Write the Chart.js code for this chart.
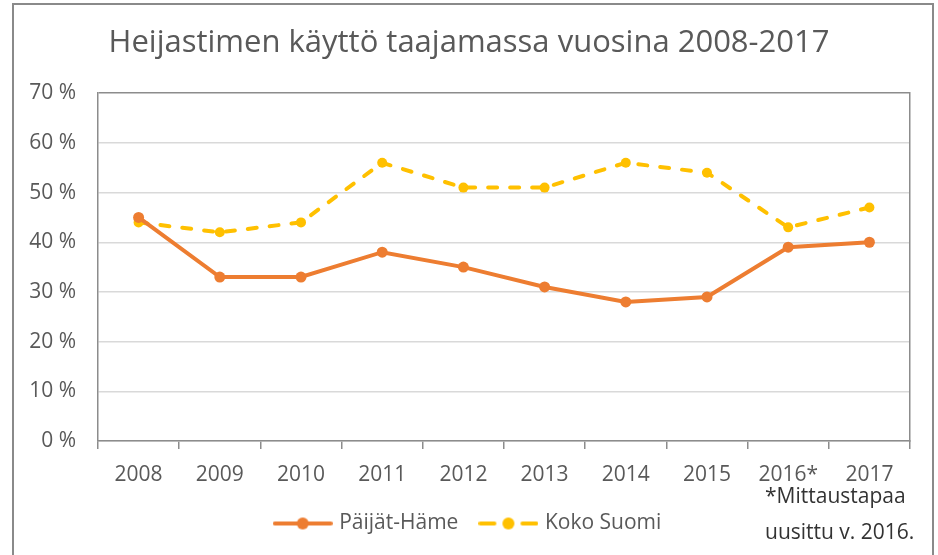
<!DOCTYPE html>
<html>
<head>
<meta charset="utf-8">
<script src="https://cdn.jsdelivr.net/npm/chart.js@4"></script>
<style>
  html, body { margin: 0; padding: 0; background: #fff; }
  #wrap { position: relative; width: 938px; height: 555px; overflow: hidden; }
  #note {
    position: absolute; left: 765px; top: 477px;
    font: 21px "Open Sans", sans-serif;
    line-height: 36px; color: #333;
  }
</style>
</head>
<body>
<div id="wrap">
  <canvas id="chart" width="938" height="555"></canvas>
  <div id="note">*Mittaustapaa<br>uusittu v. 2016.</div>
</div>
<script>
const years = ['2008', '2009', '2010', '2011', '2012', '2013', '2014', '2015', '2016*', '2017'];
const paijatHame = [45, 33, 33, 38, 35, 31, 28, 29, 39, 40];
const kokoSuomi = [44, 42, 44, 56, 51, 51, 56, 54, 43, 47];

const FONT = '"Open Sans", sans-serif';
const TEXT = '#595959';
const ORANGE = '#ED7D31';
const YELLOW = '#FFC000';
const AXIS = '#8c8c8c';

// little line+dot pictures for the legend
function legendIcon(color, dashed) {
    const c = document.createElement('canvas');
    c.width = 60;
    c.height = 14;
    const g = c.getContext('2d');
    g.strokeStyle = color;
    g.fillStyle = color;
    g.lineWidth = 4;
    g.lineCap = 'round';
    g.beginPath();
    if (dashed) {
        g.moveTo(2, 7); g.lineTo(16, 7);
        g.moveTo(44, 7); g.lineTo(58, 7);
    } else {
        g.moveTo(2, 7); g.lineTo(58, 7);
    }
    g.stroke();
    g.beginPath();
    g.arc(30, 7, 6, 0, Math.PI * 2);
    g.fill();
    return c;
}
const icons = [legendIcon(ORANGE, false), legendIcon(YELLOW, true)];

const framePlugin = {
    id: 'frame',
    beforeDraw(chart) {
        const ctx = chart.ctx;
        ctx.save();
        ctx.strokeStyle = '#8a8a8a';
        ctx.lineWidth = 2;
        ctx.strokeRect(13, 4, 920, 600);
        ctx.restore();
    }
};

new Chart(document.getElementById('chart'), {
    type: 'line',
    data: {
        labels: years,
        datasets: [{
            label: 'Päijät-Häme',
            data: paijatHame,
            borderColor: ORANGE,
            backgroundColor: ORANGE,
            borderWidth: 4,
            pointRadius: 5.5,
            pointBorderWidth: 0,
            tension: 0
        }, {
            label: 'Koko Suomi',
            data: kokoSuomi,
            borderColor: YELLOW,
            backgroundColor: YELLOW,
            borderWidth: 4,
            borderDash: [9, 13],
            borderCapStyle: 'round',
            pointRadius: 5,
            pointBorderWidth: 0,
            tension: 0
        }]
    },
    options: {
        responsive: false,
        animation: false,
        layout: { padding: { left: 0, right: 0, top: 0, bottom: 11 } },
        scales: {
            x: {
                offset: true,
                grid: {
                    offset: true,
                    drawOnChartArea: false,
                    drawTicks: true,
                    tickLength: 8,
                    color: AXIS,
                    lineWidth: 1.5
                },
                border: { color: AXIS, width: 1.5 },
                ticks: { color: TEXT, font: { family: FONT, size: 21 }, padding: 13 },
                afterFit(scale) { scale.height = 48; }
            },
            y: {
                min: 0,
                max: 70,
                ticks: {
                    stepSize: 10,
                    color: TEXT,
                    padding: 22,
                    font: { family: FONT, size: 21 },
                    callback: v => v + ' %'
                },
                grid: {
                    color: ctx => (ctx.tick && ctx.tick.value === 70) ? AXIS : '#d9d9d9',
                    lineWidth: 1.5,
                    drawTicks: false
                },
                border: { color: AXIS, width: 1.5 },
                afterFit(scale) { scale.width = 98; }
            },
            // right edge of the plot box
            y2: {
                position: 'right',
                min: 0,
                max: 70,
                ticks: { display: false },
                grid: { display: false },
                border: { color: AXIS, width: 1.5 },
                afterFit(scale) { scale.width = 28; }
            }
        },
        plugins: {
            title: {
                display: true,
                text: 'Heijastimen käyttö taajamassa vuosina 2008-2017',
                color: TEXT,
                font: { family: FONT, size: 31, weight: 'normal' },
                padding: { top: 25, bottom: 31 }
            },
            legend: {
                position: 'bottom',
                labels: {
                    color: TEXT,
                    font: { family: FONT, size: 21 },
                    usePointStyle: true,
                    pointStyleWidth: 52,
                    padding: 24,
                    generateLabels(chart) {
                        const items = Chart.defaults.plugins.legend.labels.generateLabels(chart);
                        items.forEach((it, i) => { it.pointStyle = icons[i]; });
                        return items;
                    }
                }
            },
            tooltip: { enabled: false }
        }
    },
    plugins: [framePlugin]
});
</script>
</body>
</html>
